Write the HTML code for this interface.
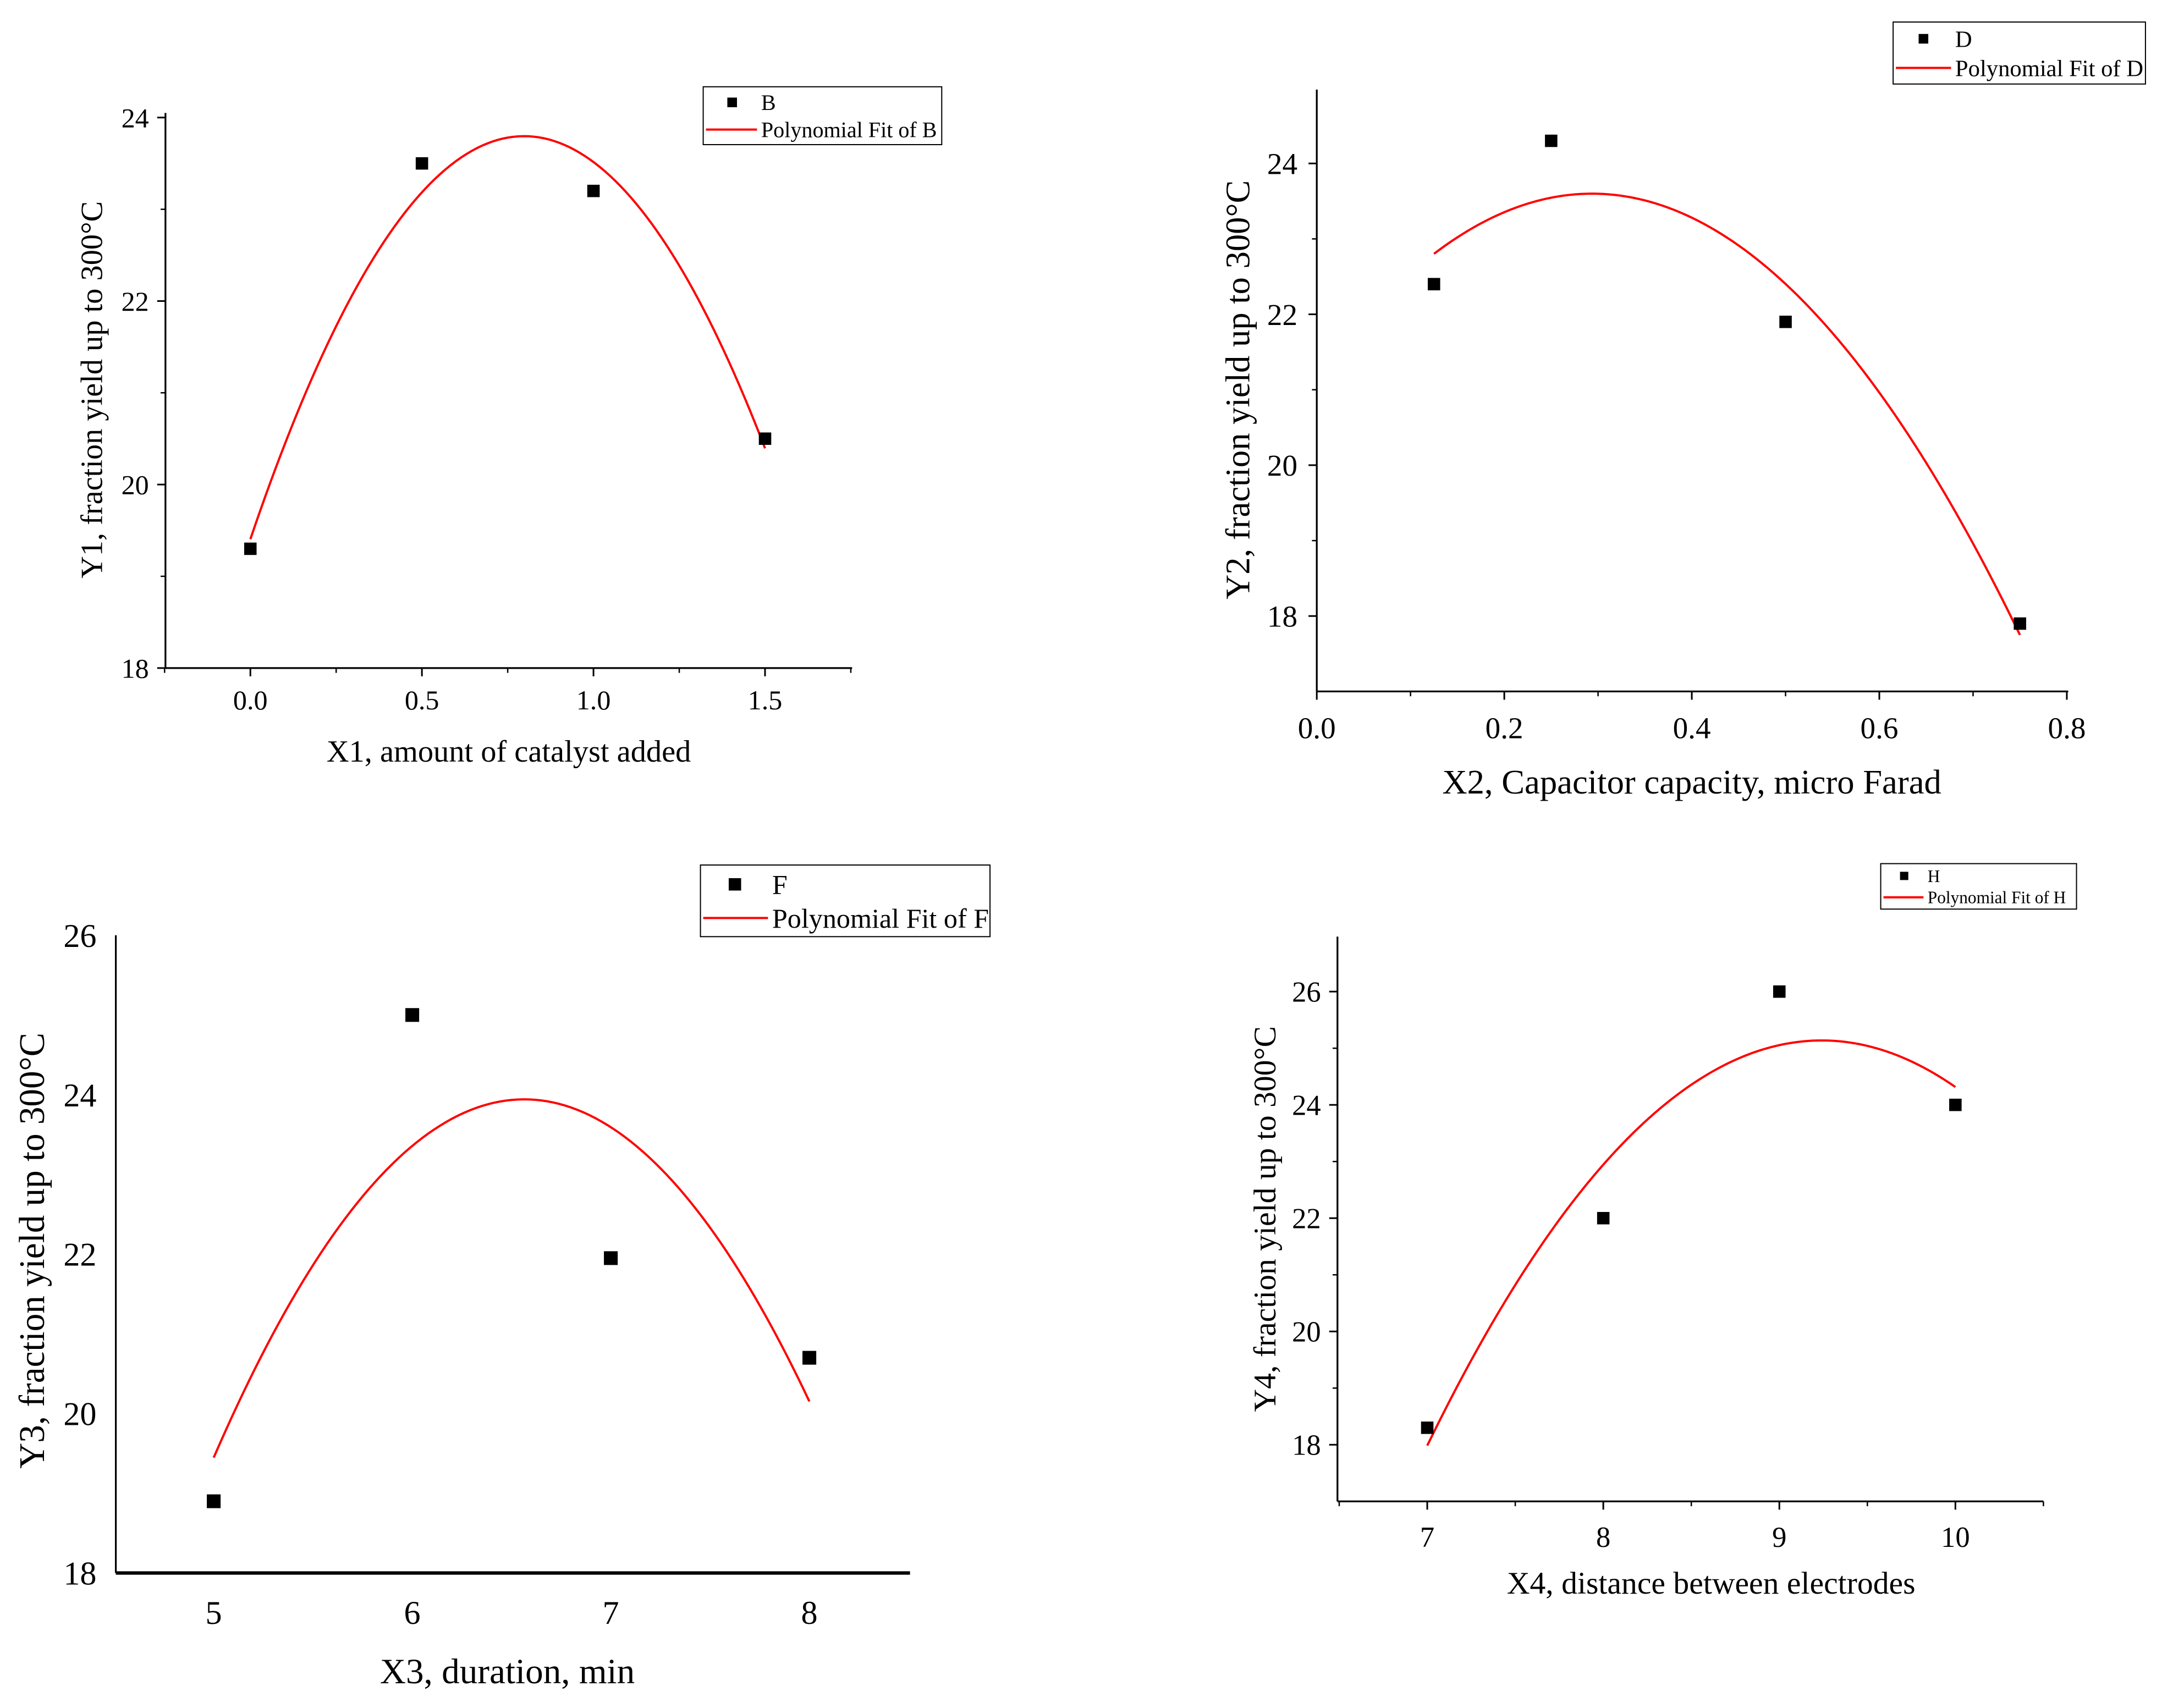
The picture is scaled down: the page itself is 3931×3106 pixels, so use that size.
<!DOCTYPE html>
<html><head><meta charset="utf-8"><style>
html,body{margin:0;padding:0;background:#fff;}
svg{display:block;}
text{font-family:"Liberation Serif",serif;fill:#000;}
</style></head><body>
<svg id="chart" width="3931" height="3106" viewBox="0 0 1568 1240" preserveAspectRatio="none" xmlns="http://www.w3.org/2000/svg">
<rect x="0" y="0" width="1568" height="1240" fill="#fff"/>
</svg>
<script>
// Panel B
const xB = [0, 0.5, 1.0, 1.5];
const yB = [19.3, 23.5, 23.2, 20.5];
const xTicksB = ["0.0","0.5","1.0","1.5"];
const yTicksB = ["18","20","22","24"];
// Panel D
const xD = [0.125, 0.25, 0.5, 0.75];
const yD = [22.4, 24.3, 21.9, 17.9];
const xTicksD = ["0.0","0.2","0.4","0.6","0.8"];
const yTicksD = ["18","20","22","24"];
// Panel F
const xF = [5, 6, 7, 8];
const yF = [18.9, 25.0, 21.95, 20.7];
const xTicksF = ["5","6","7","8"];
const yTicksF = ["18","20","22","24","26"];
// Panel H
const xH = [7, 8, 9, 10];
const yH = [18.3, 22.0, 26.0, 24.0];
const xTicksH = ["7","8","9","10"];
const yTicksH = ["18","20","22","24","26"];

const NS = "http://www.w3.org/2000/svg";
const svg = document.getElementById('chart');
function mk(tag, attrs, parent){const e=document.createElementNS(NS,tag);for(const k in attrs)e.setAttribute(k,attrs[k]);(parent||svg).appendChild(e);return e;}

function polyfit2(xs, ys){
  let n=xs.length,S=[0,0,0,0,0],T=[0,0,0];
  for(let i=0;i<n;i++){let p=1;for(let k=0;k<5;k++){S[k]+=p;if(k<3)T[k]+=p*ys[i];p*=xs[i];}}
  const A=[[S[0],S[1],S[2],T[0]],[S[1],S[2],S[3],T[1]],[S[2],S[3],S[4],T[2]]];
  for(let i=0;i<3;i++){for(let j=i+1;j<3;j++){const f=A[j][i]/A[i][i];for(let k=i;k<4;k++)A[j][k]-=f*A[i][k];}}
  const c=[0,0,0];
  for(let i=2;i>=0;i--){let s=A[i][3];for(let k=i+1;k<3;k++)s-=A[i][k]*c[k];c[i]=s/A[i][i];}
  return c;
}

function panel(cfg){
  const g=mk('g',{});
  
  
  const sx=v=>cfg.x0+(v-cfg.xmin)/(cfg.xmax-cfg.xmin)*(cfg.x1-cfg.x0);
  const sy=v=>cfg.y0-(v-cfg.ymin)/(cfg.ymax-cfg.ymin)*(cfg.y0-cfg.y1);
  const xa=mk('line',{x1:cfg.x0,y1:cfg.y0,x2:cfg.x1,y2:cfg.y0,stroke:'#000','stroke-width':cfg.xw||1.3},g);
  
  
  const ya=mk('line',{x1:cfg.x0,y1:cfg.y0,x2:cfg.x0,y2:cfg.y1,stroke:'#000','stroke-width':1.3},g);
  
  
  cfg.xt.forEach(t=>{const v=parseFloat(t);const X=sx(v);
    if(cfg.ticks){mk('line',{x1:X,y1:cfg.y0,x2:X,y2:cfg.y0+6,stroke:'#000','stroke-width':1.2},g);}
    const tx=mk('text',{x:X,y:cfg.y0+cfg.xtoff,'font-size':cfg.tfs,'text-anchor':'middle'},g);tx.textContent=t;
    
    
  });
  if(cfg.ticks&&cfg.xminor){for(let v=cfg.xminorStart;v<=cfg.xmax+1e-9;v+=cfg.xminor){const X=sx(v);mk('line',{x1:X,y1:cfg.y0,x2:X,y2:cfg.y0+3.5,stroke:'#000','stroke-width':1},g);}}
  cfg.yt.forEach(t=>{const v=parseFloat(t);const Y=sy(v);
    if(cfg.ticks){mk('line',{x1:cfg.x0,y1:Y,x2:cfg.x0-6,y2:Y,stroke:'#000','stroke-width':1.2},g);}
    const tx=mk('text',{x:cfg.x0-cfg.ytoff,y:Y+cfg.tfs*0.35,'font-size':cfg.tfs,'text-anchor':'end'},g);tx.textContent=t;
    
    
  });
  if(cfg.ticks){for(let v=cfg.yminorStart;v<=cfg.ymax+1e-9;v+=2){const Y=sy(v);mk('line',{x1:cfg.x0,y1:Y,x2:cfg.x0-3.5,y2:Y,stroke:'#000','stroke-width':1},g);}}
  const xl=mk('text',{x:cfg.xlx,y:cfg.xly,'font-size':cfg.lfs,'text-anchor':'middle'},g);xl.textContent=cfg.xlabel;
  
  
  const yl=mk('text',{x:0,y:0,'font-size':cfg.lfs,'text-anchor':'middle',transform:`translate(${cfg.ylx},${cfg.yly}) rotate(-90)`},g);yl.textContent=cfg.ylabel;
  
  
  const c=polyfit2(cfg.xs,cfg.ys);
  const a=Math.min(...cfg.xs),b=Math.max(...cfg.xs);let d='';
  for(let i=0;i<=100;i++){const v=a+(b-a)*i/100;const yv=c[0]+c[1]*v+c[2]*v*v;d+=(i?'L':'M')+sx(v).toFixed(2)+','+sy(yv).toFixed(2);}
  const fl=mk('path',{d:d,fill:'none',stroke:'#ff0000','stroke-width':1.6},g);
  
  
  cfg.xs.forEach((v,i)=>{const s=cfg.ms;const r=mk('rect',{x:sx(v)-s/2,y:sy(cfg.ys[i])-s/2,width:s,height:s,fill:'#000'},g);
    
    
  });
  const L=cfg.leg;
  const lg=mk('g',{},g);
  
  
  mk('rect',{x:L.x,y:L.y,width:L.w,height:L.h,fill:'#fff',stroke:'#000','stroke-width':0.8},lg);
  mk('rect',{x:L.mx-L.ms/2,y:L.y+L.h*0.27-L.ms/2,width:L.ms,height:L.ms,fill:'#000'},lg);
  const t1=mk('text',{x:L.tx,y:L.y+L.h*0.27+L.fs*0.35,'font-size':L.fs},lg);t1.textContent=cfg.series;
  
  
  mk('line',{x1:L.x+2,y1:L.y+L.h*0.74,x2:L.tx-3,y2:L.y+L.h*0.74,stroke:'#ff0000','stroke-width':1.6},lg);
  const t2=mk('text',{x:L.tx,y:L.y+L.h*0.74+L.fs*0.35,'font-size':L.fs},lg);t2.textContent='Polynomial Fit of '+cfg.series;
  
  
}

panel({name:'panel-b',xs:xB,ys:yB,xt:xTicksB,yt:yTicksB,x0:120,x1:618,y0:485,y1:82,xmin:-0.2475,xmax:1.7538,ymin:18,ymax:24.05,
  ticks:true,xminor:0.25,xminorStart:-0.25,yminorStart:19,tfs:20,xtoff:30,ytoff:12,lfs:22.5,
  xlabel:'X1, amount of catalyst added',xlx:369,xly:553,ylabel:'Y1, fraction yield up to 300°C',ylx:74,yly:283,ms:9,series:'B',
  leg:{x:510,y:63,w:173,h:42,mx:531,ms:7,tx:552,fs:16}});
panel({name:'panel-d',xs:xD,ys:yD,xt:xTicksD,yt:yTicksD,x0:955,x1:1500,y0:502,y1:65,xmin:0,xmax:0.8015,ymin:17.0,ymax:24.98,
  ticks:true,xminor:0.1,xminorStart:0.1,yminorStart:19,tfs:22,xtoff:34,ytoff:14,lfs:25,
  xlabel:'X2, Capacitor capacity, micro Farad',xlx:1227,xly:576,ylabel:'Y2, fraction yield up to 300°C',ylx:906,yly:283,ms:9,series:'D',
  leg:{x:1373,y:16,w:183,h:45,mx:1395,ms:7,tx:1418,fs:17}});
panel({name:'panel-f',xs:xF,ys:yF,xt:xTicksF,yt:yTicksF,x0:84,x1:660,y0:1142,y1:679,xmin:4.507,xmax:8.507,ymin:18,ymax:26,
  ticks:false,tfs:24,xtoff:37,ytoff:14,lfs:26,xw:2.5,
  xlabel:'X3, duration, min',xlx:368,xly:1222,ylabel:'Y3, fraction yield up to 300°C',ylx:32,yly:908,ms:10,series:'F',
  leg:{x:508,y:628,w:210,h:52,mx:533,ms:9,tx:560,fs:20}});
panel({name:'panel-h',xs:xH,ys:yH,xt:xTicksH,yt:yTicksH,x0:970,x1:1482,y0:1090,y1:680,xmin:6.49,xmax:10.5,ymin:17.0,ymax:26.97,
  ticks:true,xminor:0.5,xminorStart:6.5,yminorStart:19,tfs:21,xtoff:33,ytoff:12,lfs:23,
  xlabel:'X4, distance between electrodes',xlx:1241,xly:1157,ylabel:'Y4, fraction yield up to 300°C',ylx:925,yly:885,ms:9,series:'H',
  leg:{x:1364,y:627,w:142,h:33,mx:1381,ms:6,tx:1398,fs:12.5}});
</script>
</body></html>
